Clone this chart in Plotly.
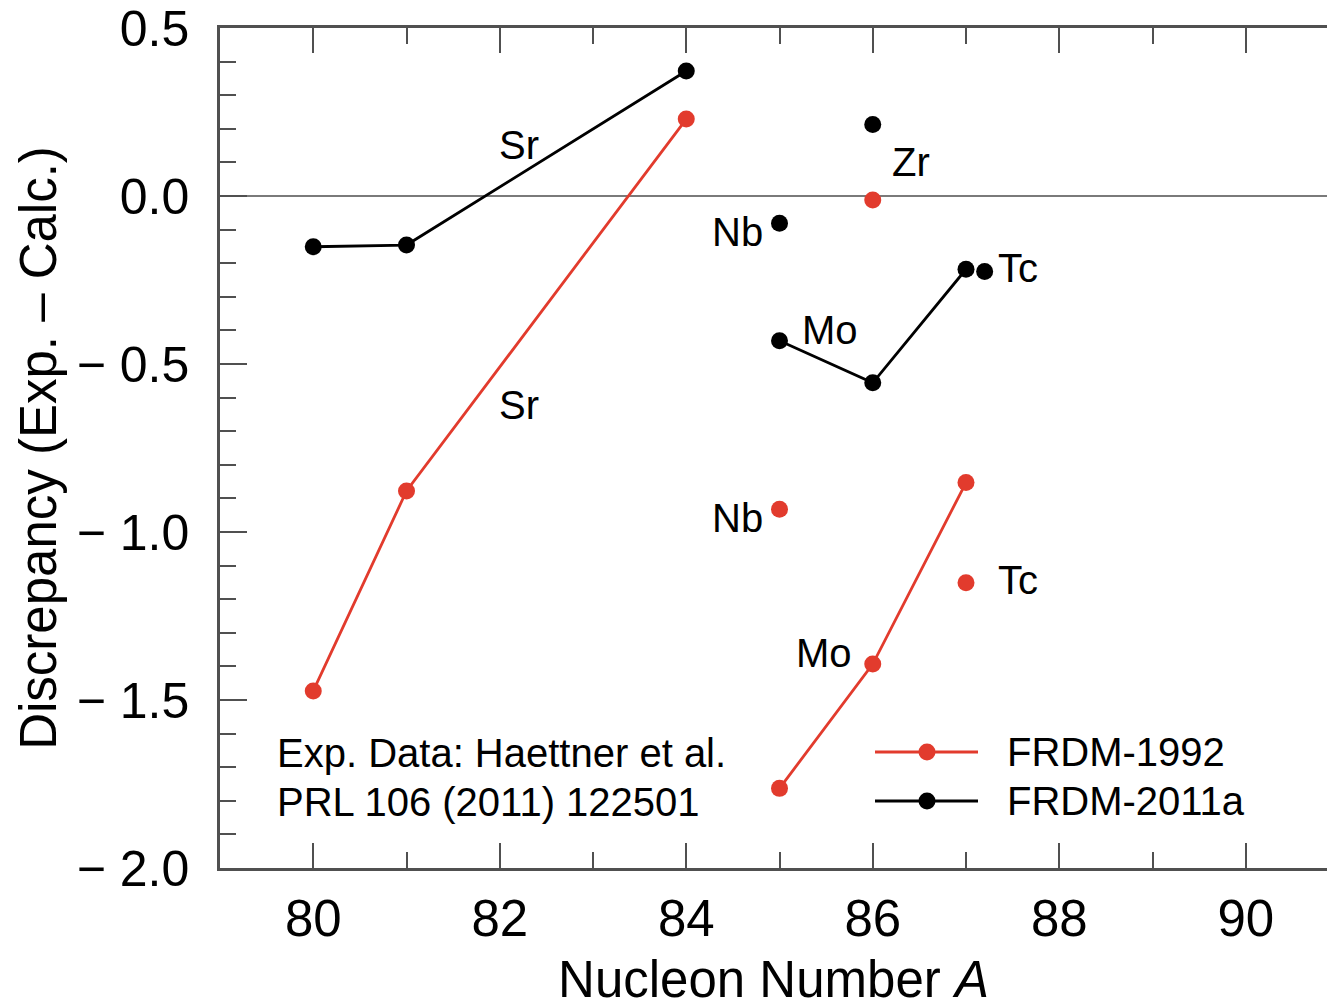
import plotly.graph_objects as go

# ---- data ----
A_sr = [80, 81, 84]
sr_1992 = [-1.473, -0.878, 0.229]
sr_2011 = [-0.151, -0.146, 0.372]

A_mo = [85, 86, 87]
mo_1992 = [-1.763, -1.393, -0.853]
mo_2011 = [-0.431, -0.556, -0.218]

A_zr = [86]
zr_1992 = [-0.012]
zr_2011 = [0.213]

A_nb = [85]
nb_1992 = [-0.932]
nb_2011 = [-0.081]

A_tc_1992 = [87]
tc_1992 = [-1.151]
A_tc_2011 = [87.2]
tc_2011 = [-0.225]

y_tickvals = [0.5, 0.0, -0.5, -1.0, -1.5, -2.0]
y_ticktext = ["0.5", "0.0", "\u2212 0.5", "\u2212 1.0", "\u2212 1.5", "\u2212 2.0"]
x_tickvals = [80, 82, 84, 86, 88, 90]

RED = "#E23B2D"
BLACK = "#000000"
AXIS = "#505050"
FONT = "Liberation Sans, Arial, Helvetica, sans-serif"

fig = go.Figure()

def add(x, y, color, mode="lines+markers"):
    fig.add_trace(go.Scatter(
        x=x, y=y, mode=mode,
        line=dict(color=color, width=2.8),
        marker=dict(color=color, size=17),
        showlegend=False, hoverinfo="skip",
    ))

# FRDM-1992 (red)
add(A_sr, sr_1992, RED)
add(A_mo, mo_1992, RED)
add(A_zr, zr_1992, RED, "markers")
add(A_nb, nb_1992, RED, "markers")
add(A_tc_1992, tc_1992, RED, "markers")
# FRDM-2011a (black)
add(A_sr, sr_2011, BLACK)
add(A_mo, mo_2011, BLACK)
add(A_zr, zr_2011, BLACK, "markers")
add(A_nb, nb_2011, BLACK, "markers")
add(A_tc_2011, tc_2011, BLACK, "markers")

# element labels
labels = [
    ("Sr", 82.21, 0.152, "center"),
    ("Sr", 82.21, -0.622, "center"),
    ("Zr", 86.41, 0.101, "center"),
    ("Nb", 84.84, -0.106, "right"),
    ("Nb", 84.84, -0.958, "right"),
    ("Mo", 85.22, -0.399, "left"),
    ("Mo", 85.80, -1.360, "right"),
    ("Tc", 87.32, -0.214, "left"),
    ("Tc", 87.32, -1.143, "left"),
]
for txt, x, y, anc in labels:
    fig.add_annotation(x=x, y=y, text=txt, showarrow=False, xanchor=anc,
                       yanchor="middle", font=dict(family=FONT, size=40, color="black"))

# source note
fig.add_annotation(xref="paper", yref="paper", x=0.05, y=(868 - 753) / 840,
                   text="Exp. Data: Haettner et al.", showarrow=False,
                   xanchor="left", yanchor="middle",
                   font=dict(family=FONT, size=40, color="black"))
fig.add_annotation(xref="paper", yref="paper", x=0.05, y=(868 - 802) / 840,
                   text="PRL 106 (2011) 122501", showarrow=False,
                   xanchor="left", yanchor="middle",
                   font=dict(family=FONT, size=40, color="black"))

# custom legend
legend_items = [("FRDM-1992", RED, (868 - 752) / 840), ("FRDM-2011a", BLACK, (868 - 801) / 840)]
lx0, lx1, lxm, ltx = (875 - 220) / 1107, (978 - 220) / 1107, (927 - 220) / 1107, (1005 - 220) / 1107
for name, col, yy in legend_items:
    fig.add_shape(type="line", xref="paper", yref="paper", x0=lx0, x1=lx1, y0=yy, y1=yy,
                  line=dict(color=col, width=2.8))
    fig.add_shape(type="circle", xref="paper", yref="paper",
                  xsizemode="pixel", ysizemode="pixel", xanchor=lxm, yanchor=yy,
                  x0=-8.5, x1=8.5, y0=-8.5, y1=8.5,
                  fillcolor=col, line=dict(color=col, width=0))
    fig.add_annotation(xref="paper", yref="paper", x=ltx, y=yy, text=name,
                       showarrow=False, xanchor="left", yanchor="middle",
                       font=dict(family=FONT, size=40, color="black"))

fig.update_layout(
    width=1327, height=1008,
    margin=dict(l=220, r=0, t=28, b=140, pad=0),
    paper_bgcolor="white", plot_bgcolor="white",
    font=dict(family=FONT, color="black"),
    showlegend=False,
)

fig.update_xaxes(
    range=[79, 79 + 1107 / 93.25],
    tickvals=x_tickvals, ticktext=[str(v) for v in x_tickvals],
    ticks="inside", ticklen=25, tickwidth=2, tickcolor=AXIS,
    minor=dict(dtick=1, ticks="inside", ticklen=16, tickwidth=2, tickcolor=AXIS),
    showline=True, linecolor=AXIS, linewidth=2.5, mirror="allticks",
    showgrid=False, zeroline=False,
    tickfont=dict(family=FONT, size=51, color="black"),
    ticklabelstandoff=4,
    title=dict(text="Nucleon Number <i>A</i>", font=dict(family=FONT, size=51, color="black"),
               standoff=23),
)
fig.update_yaxes(
    range=[-2.0, 0.5],
    tickvals=y_tickvals, ticktext=y_ticktext,
    ticks="inside", ticklen=27, tickwidth=2, tickcolor=AXIS,
    minor=dict(dtick=0.1, ticks="inside", ticklen=16, tickwidth=2, tickcolor=AXIS),
    showline=True, linecolor=AXIS, linewidth=2.5, mirror=False,
    showgrid=False, zeroline=True, zerolinecolor="#7a7a7a", zerolinewidth=2,
    tickfont=dict(family=FONT, size=50, color="black"),
    ticklabelstandoff=18,
    title=dict(text="Discrepancy (Exp. \u2013 Calc.)", font=dict(family=FONT, size=51, color="black"),
               standoff=4),
)

fig.write_html("out.html")
